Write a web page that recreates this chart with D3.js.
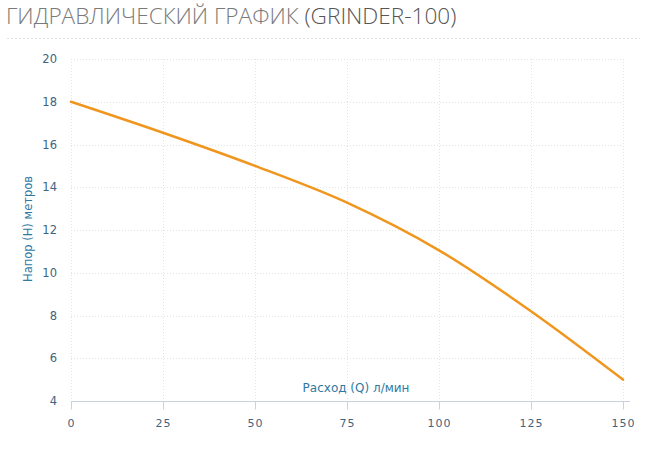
<!DOCTYPE html>
<html><head><meta charset="utf-8">
<script src="https://cdn.jsdelivr.net/npm/d3@7"></script>
<style>
body{margin:0;background:#fff;}
svg{display:block;}
</style></head>
<body><svg id="c" width="662" height="450"></svg>
<script>
const titleText = "ГИДРАВЛИЧЕСКИЙ ГРАФИК";
const titleModel = "(GRINDER-100)";
const xTitle = "Расход (Q) л/мин";
const yTitle = "Напор (H) метров";
const flow = [0, 25, 50, 75, 100, 125, 150];
const head = [18, 16.55, 15.0, 13.28, 11.05, 8.2, 5.0];
const xTicks = [0, 25, 50, 75, 100, 125, 150];
const yTicks = [4, 6, 8, 10, 12, 14, 16, 18, 20];

const svg = d3.select("#c");
const x = d3.scaleLinear().domain([0, 150]).range([71, 623]);
const y = d3.scaleLinear().domain([4, 20]).range([401, 59]);

const t = svg.append("text").attr("x", 6).attr("y", 24)
  .style("font-family", "'Open Sans', sans-serif").style("font-size", "22.6px")
  .style("font-weight", 300).attr("fill", "#7a7a7a");
t.append("tspan").text(titleText + " ");
t.append("tspan").attr("fill", "#555").text(titleModel);

svg.append("line").attr("x1", 7).attr("x2", 640).attr("y1", 38.5).attr("y2", 38.5)
  .attr("stroke", "#e2e2e2").attr("stroke-dasharray", "2,2");

// grid
svg.append("g").selectAll("line").data(yTicks.filter(d => d > 4)).join("line")
  .attr("x1", x(0)).attr("x2", x(150)).attr("y1", d => Math.round(y(d)) + 0.5).attr("y2", d => Math.round(y(d)) + 0.5)
  .attr("stroke", "#e4e4e4").attr("stroke-dasharray", "1,2");
svg.append("g").selectAll("line").data(xTicks).join("line")
  .attr("y1", y(20)).attr("y2", y(4)).attr("x1", d => Math.round(x(d)) + 0.5).attr("x2", d => Math.round(x(d)) + 0.5)
  .attr("stroke", "#e4e4e4").attr("stroke-dasharray", "1,2");

// x axis
const xa = svg.append("g").attr("transform", `translate(0,${Math.round(y(4)) + 0.5})`)
  .call(d3.axisBottom(x).tickValues(xTicks).tickSize(8).tickPadding(10).tickSizeOuter(0));
xa.select(".domain").attr("stroke", "#c8d3dd").attr("d", `M${x(0)},0H${x(150) + 7}`);
xa.selectAll(".tick line").attr("stroke", "#c8d3dd");
xa.selectAll(".tick text").attr("fill", "#3d6580")
  .style("font-family", "'DejaVu Sans', sans-serif").style("font-size", "11px").style("letter-spacing", "1px");

// y axis
const ya = svg.append("g").attr("transform", `translate(${x(0)},0)`)
  .call(d3.axisLeft(y).tickValues(yTicks).tickSize(0).tickPadding(14));
ya.select(".domain").remove();
ya.selectAll(".tick text").attr("fill", "#3d6580")
  .style("font-family", "'DejaVu Sans', sans-serif").style("font-size", "11.5px");

// axis titles
svg.append("text").attr("x", 356).attr("y", 392).attr("text-anchor", "middle")
  .attr("fill", "#2f7aa3").style("font-family", "'DejaVu Sans', sans-serif").style("font-size", "12px")
  .text(xTitle);
svg.append("text").attr("transform", `translate(32,229) rotate(-90)`).attr("text-anchor", "middle")
  .attr("fill", "#2f7aa3").style("font-family", "'DejaVu Sans', sans-serif").style("font-size", "11.5px")
  .text(yTitle);

// curve
const pts = flow.map((f, i) => [f, head[i]]);
svg.append("path").datum(pts)
  .attr("d", d3.line().x(d => x(d[0])).y(d => y(d[1])).curve(d3.curveMonotoneX))
  .attr("fill", "none").attr("stroke", "#f0961e").attr("stroke-width", 2.5).attr("stroke-linecap", "round");
</script></body></html>
